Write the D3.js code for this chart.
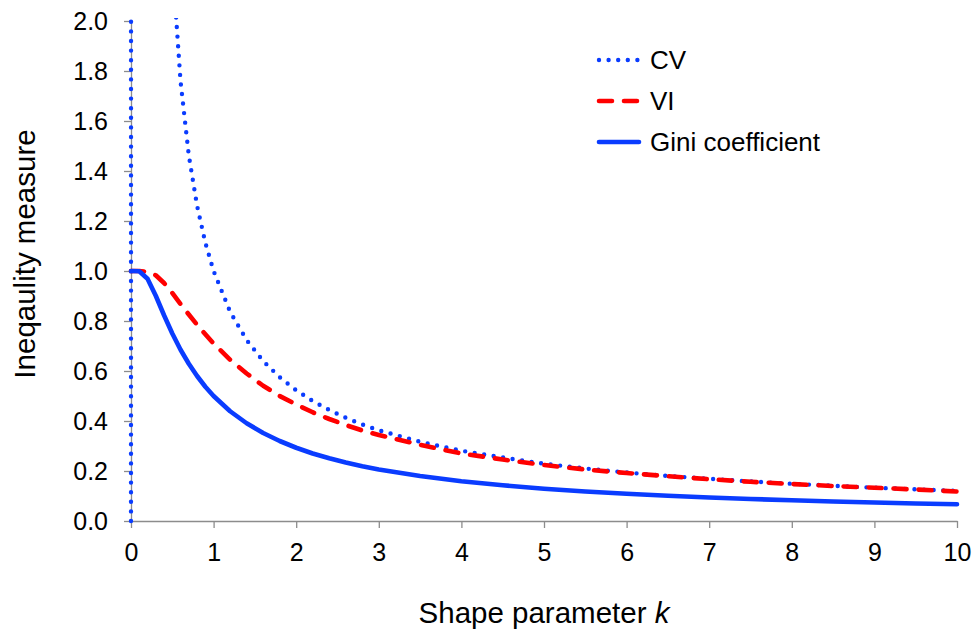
<!DOCTYPE html>
<html>
<head>
<meta charset="utf-8">
<script src="https://cdn.jsdelivr.net/npm/d3@7"></script>
<style>
  body { margin: 0; background: #fff; }
  svg text { font-family: "Liberation Sans", Arial, Helvetica, sans-serif; fill: #000; }
</style>
</head>
<body>
<div id="chart"></div>
<script>
// Shape parameter k (x values)
const kValues = [0, 0.1, 0.2, 0.3, 0.4, 0.5, 0.6, 0.7, 0.8, 0.9, 1.0,
    1.2, 1.4, 1.6, 1.8, 2.0, 2.2, 2.4, 2.6, 2.8, 3.0,
    3.5, 4.0, 4.5, 5.0, 5.5, 6.0, 6.5, 7.0, 7.5, 8.0, 8.5, 9.0, 9.5, 10];

// series (CV runs off the top for small k)
const cvValues = [0, 429.8, 15.87, 5.41, 3.14, 2.236, 1.758, 1.462, 1.261, 1.113, 1.0,
    0.837, 0.724, 0.640, 0.575, 0.523, 0.480, 0.444, 0.413, 0.386, 0.363,
    0.317, 0.281, 0.254, 0.229, 0.210, 0.194, 0.180, 0.169, 0.158, 0.149, 0.141, 0.133, 0.127, 0.120];
const viValues = [1.0, 1.0, 0.997, 0.983, 0.952, 0.912, 0.868, 0.826, 0.785, 0.747, 0.710,
    0.645, 0.590, 0.541, 0.500, 0.466, 0.435, 0.408, 0.384, 0.362, 0.344,
    0.305, 0.270, 0.246, 0.224, 0.206, 0.192, 0.179, 0.167, 0.157, 0.148, 0.140, 0.133, 0.126, 0.118];
const giniValues = [1.0, 0.999, 0.969, 0.901, 0.823, 0.750, 0.685, 0.629, 0.580, 0.537, 0.500,
    0.439, 0.391, 0.352, 0.320, 0.293, 0.270, 0.251, 0.234, 0.219, 0.206,
    0.180, 0.159, 0.143, 0.129, 0.118, 0.109, 0.101, 0.094, 0.088, 0.083, 0.078, 0.074, 0.070, 0.067];

const seriesNames = ["CV", "VI", "Gini coefficient"];
const xTicks = [0, 1, 2, 3, 4, 5, 6, 7, 8, 9, 10];
const yTicks = [0, 0.2, 0.4, 0.6, 0.8, 1.0, 1.2, 1.4, 1.6, 1.8, 2.0];

const width = 976;
const height = 631;
const blue = "#0a3cff";
const red = "#ff0000";

const svg = d3.select("#chart")
    .append("svg")
    .attr("width", width)
    .attr("height", height);

const x = d3.scaleLinear().domain([0, 10]).range([131, 957]);
const y = d3.scaleLinear().domain([0, 2]).range([521, 21]);

// axes
const xAxis = svg.append("g")
    .attr("transform", `translate(0,${y(0)})`)
    .call(d3.axisBottom(x).tickValues(xTicks).tickFormat(d3.format("d"))
        .tickSize(7).tickSizeOuter(0).tickPadding(15));

const yAxis = svg.append("g")
    .attr("transform", `translate(${x(0)},0)`)
    .call(d3.axisLeft(y).tickValues(yTicks).tickFormat(d3.format(".1f"))
        .tickSize(7).tickSizeOuter(0).tickPadding(16));

[xAxis, yAxis].forEach(g => {
    g.select(".domain").attr("stroke", "#8c8c8c").attr("stroke-width", 1.3);
    g.selectAll(".tick line").attr("stroke", "#8c8c8c").attr("stroke-width", 1.3);
    g.selectAll(".tick text").attr("font-size", "25px").attr("fill", "#000")
        .style("font-family", "'Liberation Sans', Arial, sans-serif");
});

// clip to plot area
svg.append("defs").append("clipPath")
    .attr("id", "plot-clip")
    .append("rect")
    .attr("x", x(0) - 6)
    .attr("y", y(2) - 3)
    .attr("width", x(10) - x(0) + 12)
    .attr("height", y(0) - y(2) + 6);

const styles = [
    {values: cvValues, color: blue, width: 4.4, dash: "0 9.6", cap: "round"},
    {values: viValues, color: red, width: 4.6, dash: "13 12", cap: "round"},
    {values: giniValues, color: blue, width: 4.6, dash: null, cap: "round"}
];

const line = d3.line()
    .x(d => x(d[0]))
    .y(d => y(d[1]));

const plot = svg.append("g").attr("clip-path", "url(#plot-clip)");

styles.forEach(s => {
    plot.append("path")
        .datum(kValues.map((k, i) => [k, s.values[i]]))
        .attr("d", line)
        .attr("fill", "none")
        .attr("stroke", s.color)
        .attr("stroke-width", s.width)
        .attr("stroke-linecap", s.cap)
        .attr("stroke-linejoin", "round")
        .attr("stroke-dasharray", s.dash);
});

// legend
const legend = svg.append("g").attr("transform", "translate(597, 60)");
seriesNames.forEach((name, i) => {
    const s = styles[i];
    const row = legend.append("g").attr("transform", `translate(0, ${i * 41})`);
    row.append("line")
        .attr("x1", 2).attr("x2", 42)
        .attr("y1", 0).attr("y2", 0)
        .attr("stroke", s.color)
        .attr("stroke-width", s.width)
        .attr("stroke-linecap", s.cap)
        .attr("stroke-dasharray", s.dash);
    row.append("text")
        .attr("x", 53)
        .attr("y", 9)
        .attr("font-size", "26px")
        .text(name);
});

// axis titles
svg.append("text")
    .attr("x", 544)
    .attr("y", 623)
    .attr("text-anchor", "middle")
    .attr("font-size", "29.5px")
    .text("Shape parameter ")
    .append("tspan")
    .attr("font-style", "italic")
    .text("k");

svg.append("text")
    .attr("transform", "translate(35, 254) rotate(-90)")
    .attr("text-anchor", "middle")
    .attr("font-size", "29.5px")
    .text("Ineqaulity measure");
</script>
</body>
</html>
